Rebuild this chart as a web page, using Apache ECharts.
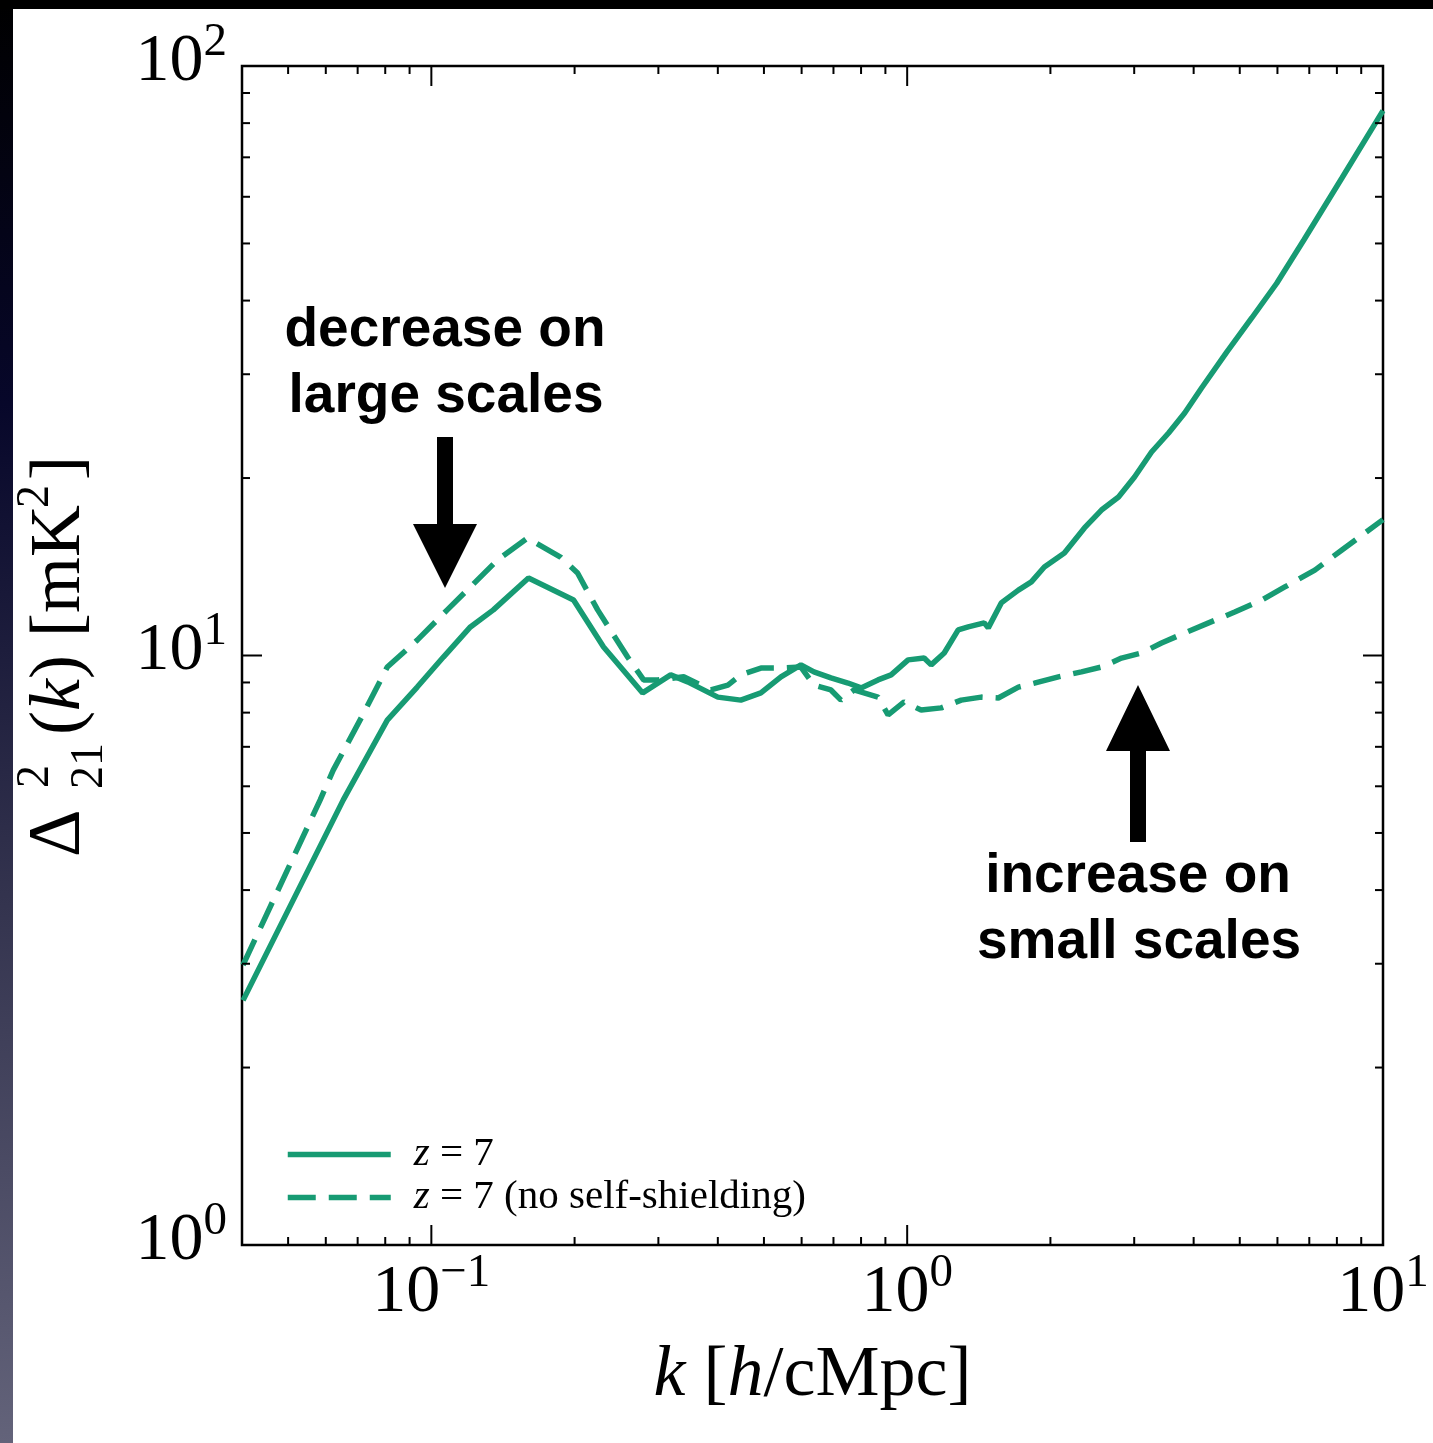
<!DOCTYPE html>
<html><head><meta charset="utf-8">
<script src="https://cdn.jsdelivr.net/npm/echarts@6/dist/echarts.min.js"></script>
<style>html,body{margin:0;padding:0;background:#fff}#c{width:1433px;height:1443px}</style>
</head><body><div id="c"></div>
<script>
// ---- data (k in h/cMpc, Delta^2_21 in mK^2) ----
const seriesNames = ['z = 7', 'z = 7 (no self-shielding)'];
const kSolid = [0.0402,0.0653,0.0808,0.0934,0.1060,0.1208,0.1350,0.1600,0.1990,0.2301,0.2780,0.3184,0.3457,0.4000,0.4471,0.4927,0.5429,0.5980,0.6369,0.6915,0.7510,0.8000,0.8684,0.9252,1.0046,1.0856,1.1230,1.1963,1.2801,1.3437,1.4521,1.4805,1.5767,1.7128,1.8239,1.9420,2.1398,2.3580,2.5604,2.7809,3.0047,3.2628,3.5433,3.8300,4.156,4.694,5.298,5.98,6.818,8.197,10.0];
const dSolid = [2.60,5.69,7.77,8.84,9.94,11.18,11.95,13.54,12.42,10.34,8.64,9.27,9.02,8.50,8.40,8.64,9.20,9.64,9.38,9.16,8.98,8.81,9.09,9.27,9.83,9.90,9.64,10.10,11.05,11.18,11.36,11.14,12.28,12.91,13.33,14.13,14.92,16.46,17.65,18.57,20.08,22.14,23.85,25.78,28.43,32.7,37.37,42.8,50.68,64.57,84.0];
const kDash = [0.0402,0.0584,0.0622,0.0719,0.0808,0.0934,0.1080,0.1208,0.1377,0.1592,0.1868,0.2029,0.2236,0.2585,0.2793,0.2990,0.3391,0.3867,0.4200,0.4471,0.4927,0.5429,0.5980,0.6369,0.6915,0.7259,0.7731,0.8684,0.9118,0.9854,1.0700,1.1791,1.2988,1.4312,1.5541,1.7128,1.8509,2.0787,2.3240,2.5604,2.8208,3.1081,3.4240,3.830,4.301,4.879,5.562,6.218,7.190,8.197,10.0];
const dDash = [2.985,5.69,6.39,7.95,9.56,10.62,11.95,13.07,14.52,15.82,14.69,13.80,11.95,9.94,9.09,9.09,9.20,8.74,8.91,9.27,9.52,9.52,9.56,8.91,8.74,8.40,8.74,8.50,7.93,8.34,8.08,8.15,8.40,8.50,8.47,8.84,8.98,9.20,9.38,9.56,9.90,10.10,10.50,10.92,11.36,11.85,12.42,13.07,13.96,15.10,17.0];
const xLabelExponents = [-1, 0, 1];
const yLabelExponents = [0, 1, 2];
const minorMult = [2,3,4,5,6,7,8,9];
const K_MIN = 0.04, K_MAX = 10, D_MIN = 1, D_MAX = 100;

const GREEN = '#179b73';
const SERIF = 'Liberation Serif';
const xmin = Math.log10(K_MIN), xmax = Math.log10(K_MAX);
const ymin = Math.log10(D_MIN), ymax = Math.log10(D_MAX);

function toLog(ks, ds) { return ks.map((k, i) => [Math.log10(k), Math.log10(ds[i])]); }

// tick marks (decoration) on all four sides
const ticks = [];
for (let e = -2; e <= 1; e++) {
  if (e > xmin + 1e-6 && e < xmax - 1e-6) ticks.push([e, ymin, 0]);
  minorMult.forEach(m => { const v = e + Math.log10(m); if (v > xmin + 1e-6 && v < xmax - 1e-6) ticks.push([v, ymin, 1]); });
}
for (let e = 0; e <= 2; e++) {
  if (e > ymin + 1e-6 && e < ymax - 1e-6) ticks.push([xmin, e, 2]);
  minorMult.forEach(m => { const v = e + Math.log10(m); if (v > ymin + 1e-6 && v < ymax - 1e-6) ticks.push([xmin, v, 3]); });
}

function expLabel(v) {
  const e = Math.round(v);
  return '{b|10}{s|' + (e < 0 ? '\u2212' + (-e) : e) + '}';
}
const labelRich = {
  b: { fontFamily: SERIF, fontSize: 68, lineHeight: 68, padding: [18, 0, 0, 0], color: '#000' },
  s: { fontFamily: SERIF, fontSize: 47, lineHeight: 47, verticalAlign: 'top', color: '#000' }
};

const chart = echarts.init(document.getElementById('c'), null, { renderer: 'canvas' });
chart.setOption({
  animation: false,
  backgroundColor: '#fff',
  grid: { left: 242, right: 50, top: 66, bottom: 198, show: true, borderColor: '#000', borderWidth: 2.5, backgroundColor: 'transparent' },
  xAxis: {
    type: 'value', min: xmin, max: xmax,
    axisLine: { show: false }, axisTick: { show: false }, splitLine: { show: false },
    axisLabel: { customValues: xLabelExponents, formatter: expLabel, margin: 5, rich: labelRich },
    name: '{i|k} [{i|h}/cMpc]', nameLocation: 'middle', nameGap: 95,
    nameTextStyle: { fontFamily: SERIF, fontSize: 72, color: '#000',
      rich: { i: { fontFamily: SERIF, fontStyle: 'italic', fontSize: 72, color: '#000' } } }
  },
  yAxis: {
    type: 'value', min: ymin, max: ymax, interval: 1,
    axisLine: { show: false }, axisTick: { show: false }, splitLine: { show: false },
    axisLabel: { formatter: expLabel, margin: 15, padding: [0, 0, 26, 0], rich: labelRich }
  },
  legend: {
    left: 280, top: 1128, orient: 'vertical', itemWidth: 103, itemHeight: 22, itemGap: 0,
    selectedMode: false, data: seriesNames,
    itemStyle: { opacity: 0 },
    lineStyle: { width: 5.5 },
    formatter: n => '{i|z}' + n.slice(1),
    textStyle: { fontFamily: SERIF, fontSize: 41, color: '#000', lineHeight: 43, padding: [0, 0, 0, 18],
      rich: { i: { fontFamily: SERIF, fontStyle: 'italic', fontSize: 41, color: '#000' } } }
  },
  series: [
    { name: seriesNames[0], type: 'line', data: toLog(kSolid, dSolid), symbol: 'none', showSymbol: false,
      lineStyle: { color: GREEN, width: 5.5, type: 'solid' }, itemStyle: { color: GREEN }, z: 3 },
    { name: seriesNames[1], type: 'line', data: toLog(kDash, dDash), symbol: 'none', showSymbol: false,
      lineStyle: { color: GREEN, width: 5.5, type: [28, 13] }, itemStyle: { color: GREEN }, z: 3 },
    { type: 'custom', silent: true, clip: false, data: ticks, encode: { x: 0, y: 1 }, z: 4,
      renderItem: function (params, api) {
        const kind = api.value(2); const r = params.coordSys;
        const len = (kind === 0 || kind === 2) ? 20 : 8;
        const st = { stroke: '#000', lineWidth: 2 };
        if (kind < 2) {
          const px = api.coord([api.value(0), ymin])[0];
          return { type: 'group', children: [
            { type: 'line', shape: { x1: px, y1: r.y + r.height, x2: px, y2: r.y + r.height - len }, style: st },
            { type: 'line', shape: { x1: px, y1: r.y, x2: px, y2: r.y + len }, style: st } ] };
        }
        const py = api.coord([xmin, api.value(1)])[1];
        return { type: 'group', children: [
          { type: 'line', shape: { x1: r.x, y1: py, x2: r.x + len, y2: py }, style: st },
          { type: 'line', shape: { x1: r.x + r.width, y1: py, x2: r.x + r.width - len, y2: py }, style: st } ] };
      } }
  ],
  graphic: [
    { type: 'rect', left: 0, top: 0, shape: { width: 13, height: 1443 }, silent: true,
      style: { fill: { type: 'linear', x: 0, y: 0, x2: 0, y2: 1, colorStops: [
        { offset: 0, color: '#000000' }, { offset: 0.28, color: '#07072a' }, { offset: 0.62, color: '#33334e' }, { offset: 1, color: '#63637a' } ] } } },
    { type: 'rect', left: 0, top: 0, shape: { width: 1433, height: 9 }, silent: true, style: { fill: '#000' } },
    // y-axis title
    { type: 'group', x: 65, y: 658, rotation: Math.PI / 2, silent: true, children: [
      { type: 'text', x: -199, y: -5, style: { text: '\u0394', fontFamily: SERIF, fontSize: 74, fill: '#000', align: 'left', verticalAlign: 'middle' } },
      { type: 'text', x: -130, y: -29, style: { text: '2', fontFamily: SERIF, fontSize: 46, fill: '#000', align: 'left', verticalAlign: 'middle' } },
      { type: 'text', x: -131, y: 25, style: { text: '21', fontFamily: SERIF, fontSize: 46, fill: '#000', align: 'left', verticalAlign: 'middle' } },
      { type: 'text', x: -77, y: -5, style: { text: '({i|k}) [mK', fontFamily: SERIF, fontSize: 72, fill: '#000', align: 'left', verticalAlign: 'middle',
          rich: { i: { fontFamily: SERIF, fontStyle: 'italic', fontSize: 72, fill: '#000' } } } },
      { type: 'text', x: 150, y: -29, style: { text: '2', fontFamily: SERIF, fontSize: 46, fill: '#000', align: 'left', verticalAlign: 'middle' } },
      { type: 'text', x: 178, y: -5, style: { text: ']', fontFamily: SERIF, fontSize: 72, fill: '#000', align: 'left', verticalAlign: 'middle' } }
    ] },
    // annotations
    { type: 'text', x: 445, y: 331, silent: true, style: { text: 'decrease on', fontFamily: 'Liberation Sans', fontWeight: 'bold', fontSize: 55, fill: '#000', align: 'center', verticalAlign: 'middle' } },
    { type: 'text', x: 446, y: 397, silent: true, style: { text: 'large scales', fontFamily: 'Liberation Sans', fontWeight: 'bold', fontSize: 55, fill: '#000', align: 'center', verticalAlign: 'middle' } },
    { type: 'text', x: 1138, y: 877, silent: true, style: { text: 'increase on', fontFamily: 'Liberation Sans', fontWeight: 'bold', fontSize: 55, fill: '#000', align: 'center', verticalAlign: 'middle' } },
    { type: 'text', x: 1139, y: 943, silent: true, style: { text: 'small scales', fontFamily: 'Liberation Sans', fontWeight: 'bold', fontSize: 55, fill: '#000', align: 'center', verticalAlign: 'middle' } },
    { type: 'polygon', silent: true, shape: { points: [[437,437],[453,437],[453,524],[477,524],[445,588],[413,524],[437,524]] }, style: { fill: '#000' } },
    { type: 'polygon', silent: true, shape: { points: [[1130,842],[1146,842],[1146,751],[1170,751],[1138,685],[1106,751],[1130,751]] }, style: { fill: '#000' } }
  ]
});
</script></body></html>
